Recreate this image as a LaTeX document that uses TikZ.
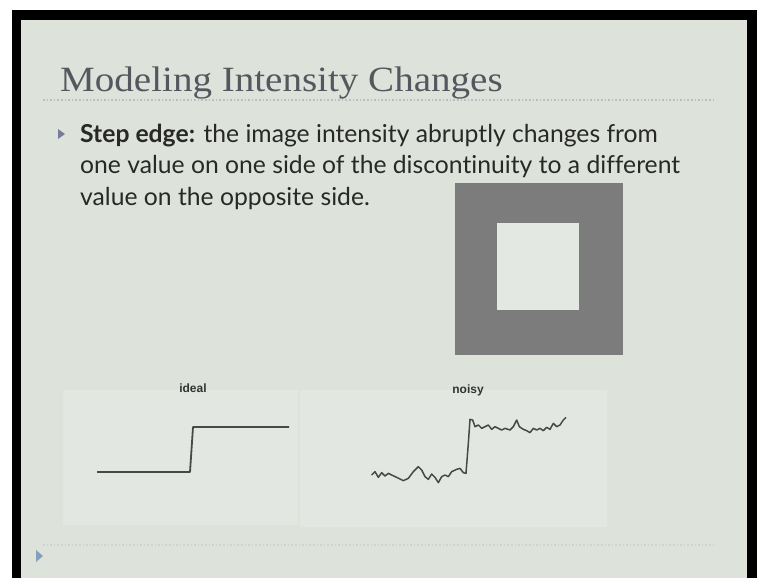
\documentclass[tikz,border=0pt]{standalone}
\usepackage{fontspec}
\setmainfont{Liberation Serif}
\newfontfamily\titlefont[FakeStretch=1.1]{Liberation Serif}
\newfontfamily\bodyfont[Ligatures=NoCommon]{Lato}
\newfontfamily\labelfont{Liberation Sans}
\definecolor{bgcol}{RGB}{221,227,218}
\definecolor{faintcol}{RGB}{227,231,225}
\definecolor{titlecol}{RGB}{85,87,95}
\definecolor{bodycol}{RGB}{40,40,40}
\definecolor{dotcol}{RGB}{185,190,192}
\definecolor{sqgray}{RGB}{124,124,124}
\definecolor{innercol}{RGB}{228,232,226}
\definecolor{plotcol}{RGB}{72,72,72}
\definecolor{bulletcol}{RGB}{120,124,150}
\definecolor{navcol}{RGB}{130,160,190}
\tikzset{
  titletext/.style={anchor=base west, inner sep=0pt, text=titlecol, font=\titlefont\fontsize{35.5}{40}\selectfont},
  bodytext/.style={anchor=base west, inner sep=0pt, text=bodycol, font=\bodyfont\fontsize{24.7}{28}\selectfont},
  plotlabel/.style={anchor=base, inner sep=0pt, text=black!80, font=\labelfont\bfseries\fontsize{12}{14}\selectfont},
  dotline/.style={dotcol, line width=1.3pt, dash pattern=on 1.6pt off 2pt},
  plotline/.style={plotcol, line width=1.8pt, line join=round},
}
\begin{document}
\begin{tikzpicture}[x=1pt,y=-1pt]
\useasboundingbox (0,0) rectangle (757,578);
% background and frame
\fill[bgcol] (0,0) rectangle (757,578);
\fill[white] (0,0) rectangle (12,578);
\fill[white] (0,0) rectangle (757,10);
\fill[black] (12,10) rectangle (21,578);
\fill[black] (12,10) rectangle (757,20);
\fill[black] (747,10) rectangle (757,578);
% title
\node[titletext] (title) at (60,92) {Modeling Intensity Changes};
\draw[dotline] (43,100) -- (715,100);
% bullet
\fill[bulletcol] (58,129) -- (65,134) -- (58,139) -- cycle;
\node[bodytext] (l1) at (80,142) {\textbf{Step edge:} the image intensity abruptly changes from};
\node[bodytext] (l2) at (80,173) {one value on one side of the discontinuity to a different};
\node[bodytext] (l3) at (80,205) {value on the opposite side.};
% faint panels
\fill[faintcol] (63,390) rectangle (298,525);
\fill[faintcol] (300,390) rectangle (607,527);
% square image
\fill[sqgray] (455,183) rectangle (623,355);
\fill[innercol] (497,223) rectangle (579,310);
% ideal
\node[plotlabel] (ideal) at (193,392) {ideal};
\draw[plotline] (97,472) -- (190,472) -- (193,427) -- (289,427);
% noisy
\node[plotlabel] (noisy) at (468,393) {noisy};
\begin{scope}[shift={(290,360)}, scale=1/3]
\draw[plotcol, line width=1.5pt, line join=round]
 (245,345)--(255,335)--(265,352)--(275,338)--(285,348)--(295,340)--(305,345)--(320,352)--(340,362)--(355,355)--(370,335)--(385,320)--(395,330)--(405,350)--(415,358)--(425,342)--(435,352)--(445,368)--(455,350)--(465,345)--(475,350)--(485,335)--(500,328)--(510,325)--(520,338)--(528,340)--(535,250)--(540,178)--(548,180)--(555,200)--(565,195)--(575,205)--(585,200)--(595,195)--(605,208)--(615,200)--(625,205)--(635,210)--(645,205)--(660,210)--(670,200)--(680,180)--(688,200)--(700,208)--(710,212)--(720,218)--(730,205)--(740,210)--(750,205)--(760,212)--(770,202)--(780,208)--(790,190)--(800,200)--(810,195)--(820,180)--(828,172);
\end{scope}
% bottom
\draw[dotline, dotcol!70] (43,545) -- (715,545);
\fill[navcol] (36,550) -- (43,556) -- (36,562) -- cycle;
\end{tikzpicture}
\end{document}
